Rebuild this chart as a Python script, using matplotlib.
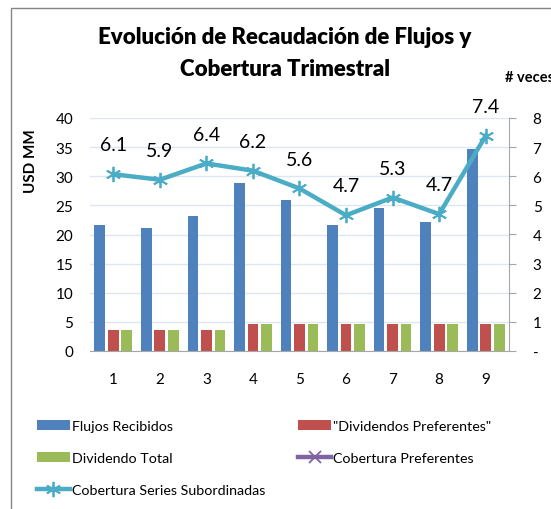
import numpy as np
import matplotlib
matplotlib.use('Agg')
import matplotlib.pyplot as plt
from matplotlib.patches import Rectangle
from matplotlib.ticker import FuncFormatter

plt.rcParams['font.family'] = ['Lato', 'DejaVu Sans']

# data
trimestres = [1, 2, 3, 4, 5, 6, 7, 8, 9]
flujos_recibidos = [21.7, 21.2, 23.1, 28.9, 26.0, 21.7, 24.6, 22.1, 34.6]
dividendos_pref = [3.55, 3.55, 3.55, 4.6, 4.6, 4.6, 4.6, 4.6, 4.6]
dividendo_total = [3.55, 3.55, 3.55, 4.6, 4.6, 4.6, 4.6, 4.6, 4.6]
cobertura_sub = [6.07, 5.88, 6.44, 6.19, 5.58, 4.66, 5.27, 4.70, 7.39]
cobertura_pref = []  # not shown in the chart

azul = '#4F81BD'
rojo = '#C0504D'
verde = '#9BBB59'
morado = '#8064A2'
turquesa = '#4BACC6'

fig = plt.figure(figsize=(5.51, 5.10), dpi=100)
ax = fig.add_axes([90/551, 1-352/510, 419/551, 233/510])
ax2 = ax.twinx()

x = np.array(trimestres)
w = 0.23
b1 = ax.bar(x - 0.29, flujos_recibidos, w, color=azul, zorder=2)
b2 = ax.bar(x, dividendos_pref, w, color=rojo, zorder=2)
b3 = ax.bar(x + 0.29, dividendo_total, w, color=verde, zorder=2)

ax.set_xlim(0.5, 9.5)
ax.set_ylim(0, 40)
ax.set_yticks(np.arange(0, 41, 5))
ax.set_xticks(trimestres)
ax.grid(axis='y', color='#DCE6F2', lw=1, zorder=0)
ax.set_axisbelow(True)
for s in ['top', 'right', 'left']:
    ax.spines[s].set_visible(False)
ax.spines['bottom'].set_color('#A6A6A6')
ax.tick_params(axis='x', length=0, labelsize=11, pad=15)
ax.tick_params(axis='y', length=0, labelsize=11, pad=12)
ax.set_ylabel('USD MM', fontsize=11, fontweight='bold', labelpad=4)
ax.yaxis.set_label_coords(-0.125, 0.82)

l2, = ax2.plot(x, cobertura_sub, color=turquesa, lw=3.2, marker=(6, 2, 0),
               ms=11, mew=1.3, zorder=4)
lp, = ax2.plot(cobertura_pref, cobertura_pref, color=morado, lw=3.2,
               marker='x', ms=9, mew=1.3)
ax2.set_ylim(0, 8)
ax2.set_yticks(range(0, 9))
ax2.yaxis.set_major_formatter(FuncFormatter(lambda v, p: '-' if v == 0 else '%d' % v))
for s in ['top', 'left', 'bottom']:
    ax2.spines[s].set_visible(False)
ax2.spines['right'].set_color('#A6A6A6')
ax2.tick_params(axis='y', length=5, color='#A6A6A6', labelsize=11, pad=12)

for xi, v in zip(x, cobertura_sub):
    ax2.annotate('%.1f' % v, (xi, v), xytext=(0, 15), textcoords='offset points',
                 ha='center', va='bottom', fontsize=14, clip_on=False)

fig.text(285/551, 1-38/510, 'Evolución de Recaudación de Flujos y',
         ha='center', va='center', fontsize=16, fontweight='heavy')
fig.text(285/551, 1-70/510, 'Cobertura Trimestral',
         ha='center', va='center', fontsize=16, fontweight='heavy')
# axis title, cut by the right edge as in the original
fig.text(505/551, 1-78/510, '# veces', ha='left', va='center',
         fontsize=10.5, fontweight='bold')

# chart border
fig.patches.append(Rectangle((11/551, -0.2), 2, 1 - 9/510 + 0.2,
                             transform=fig.transFigure, fill=False,
                             edgecolor='#868686', lw=1))

handles = [b1, b3, l2, b2, lp]
labels = ['Flujos Recibidos', 'Dividendo Total', 'Cobertura Series Subordinadas',
          '"Dividendos Preferentes"', 'Cobertura Preferentes']
fig.legend(handles, labels, ncol=2, loc='upper left',
           bbox_to_anchor=(37/551, 1-421/510), frameon=False, fontsize=10.3,
           handlelength=2.3, handletextpad=0.15, labelspacing=1.4,
           columnspacing=2.3, borderaxespad=0, borderpad=0)

fig.savefig('out.png', dpi=100)
